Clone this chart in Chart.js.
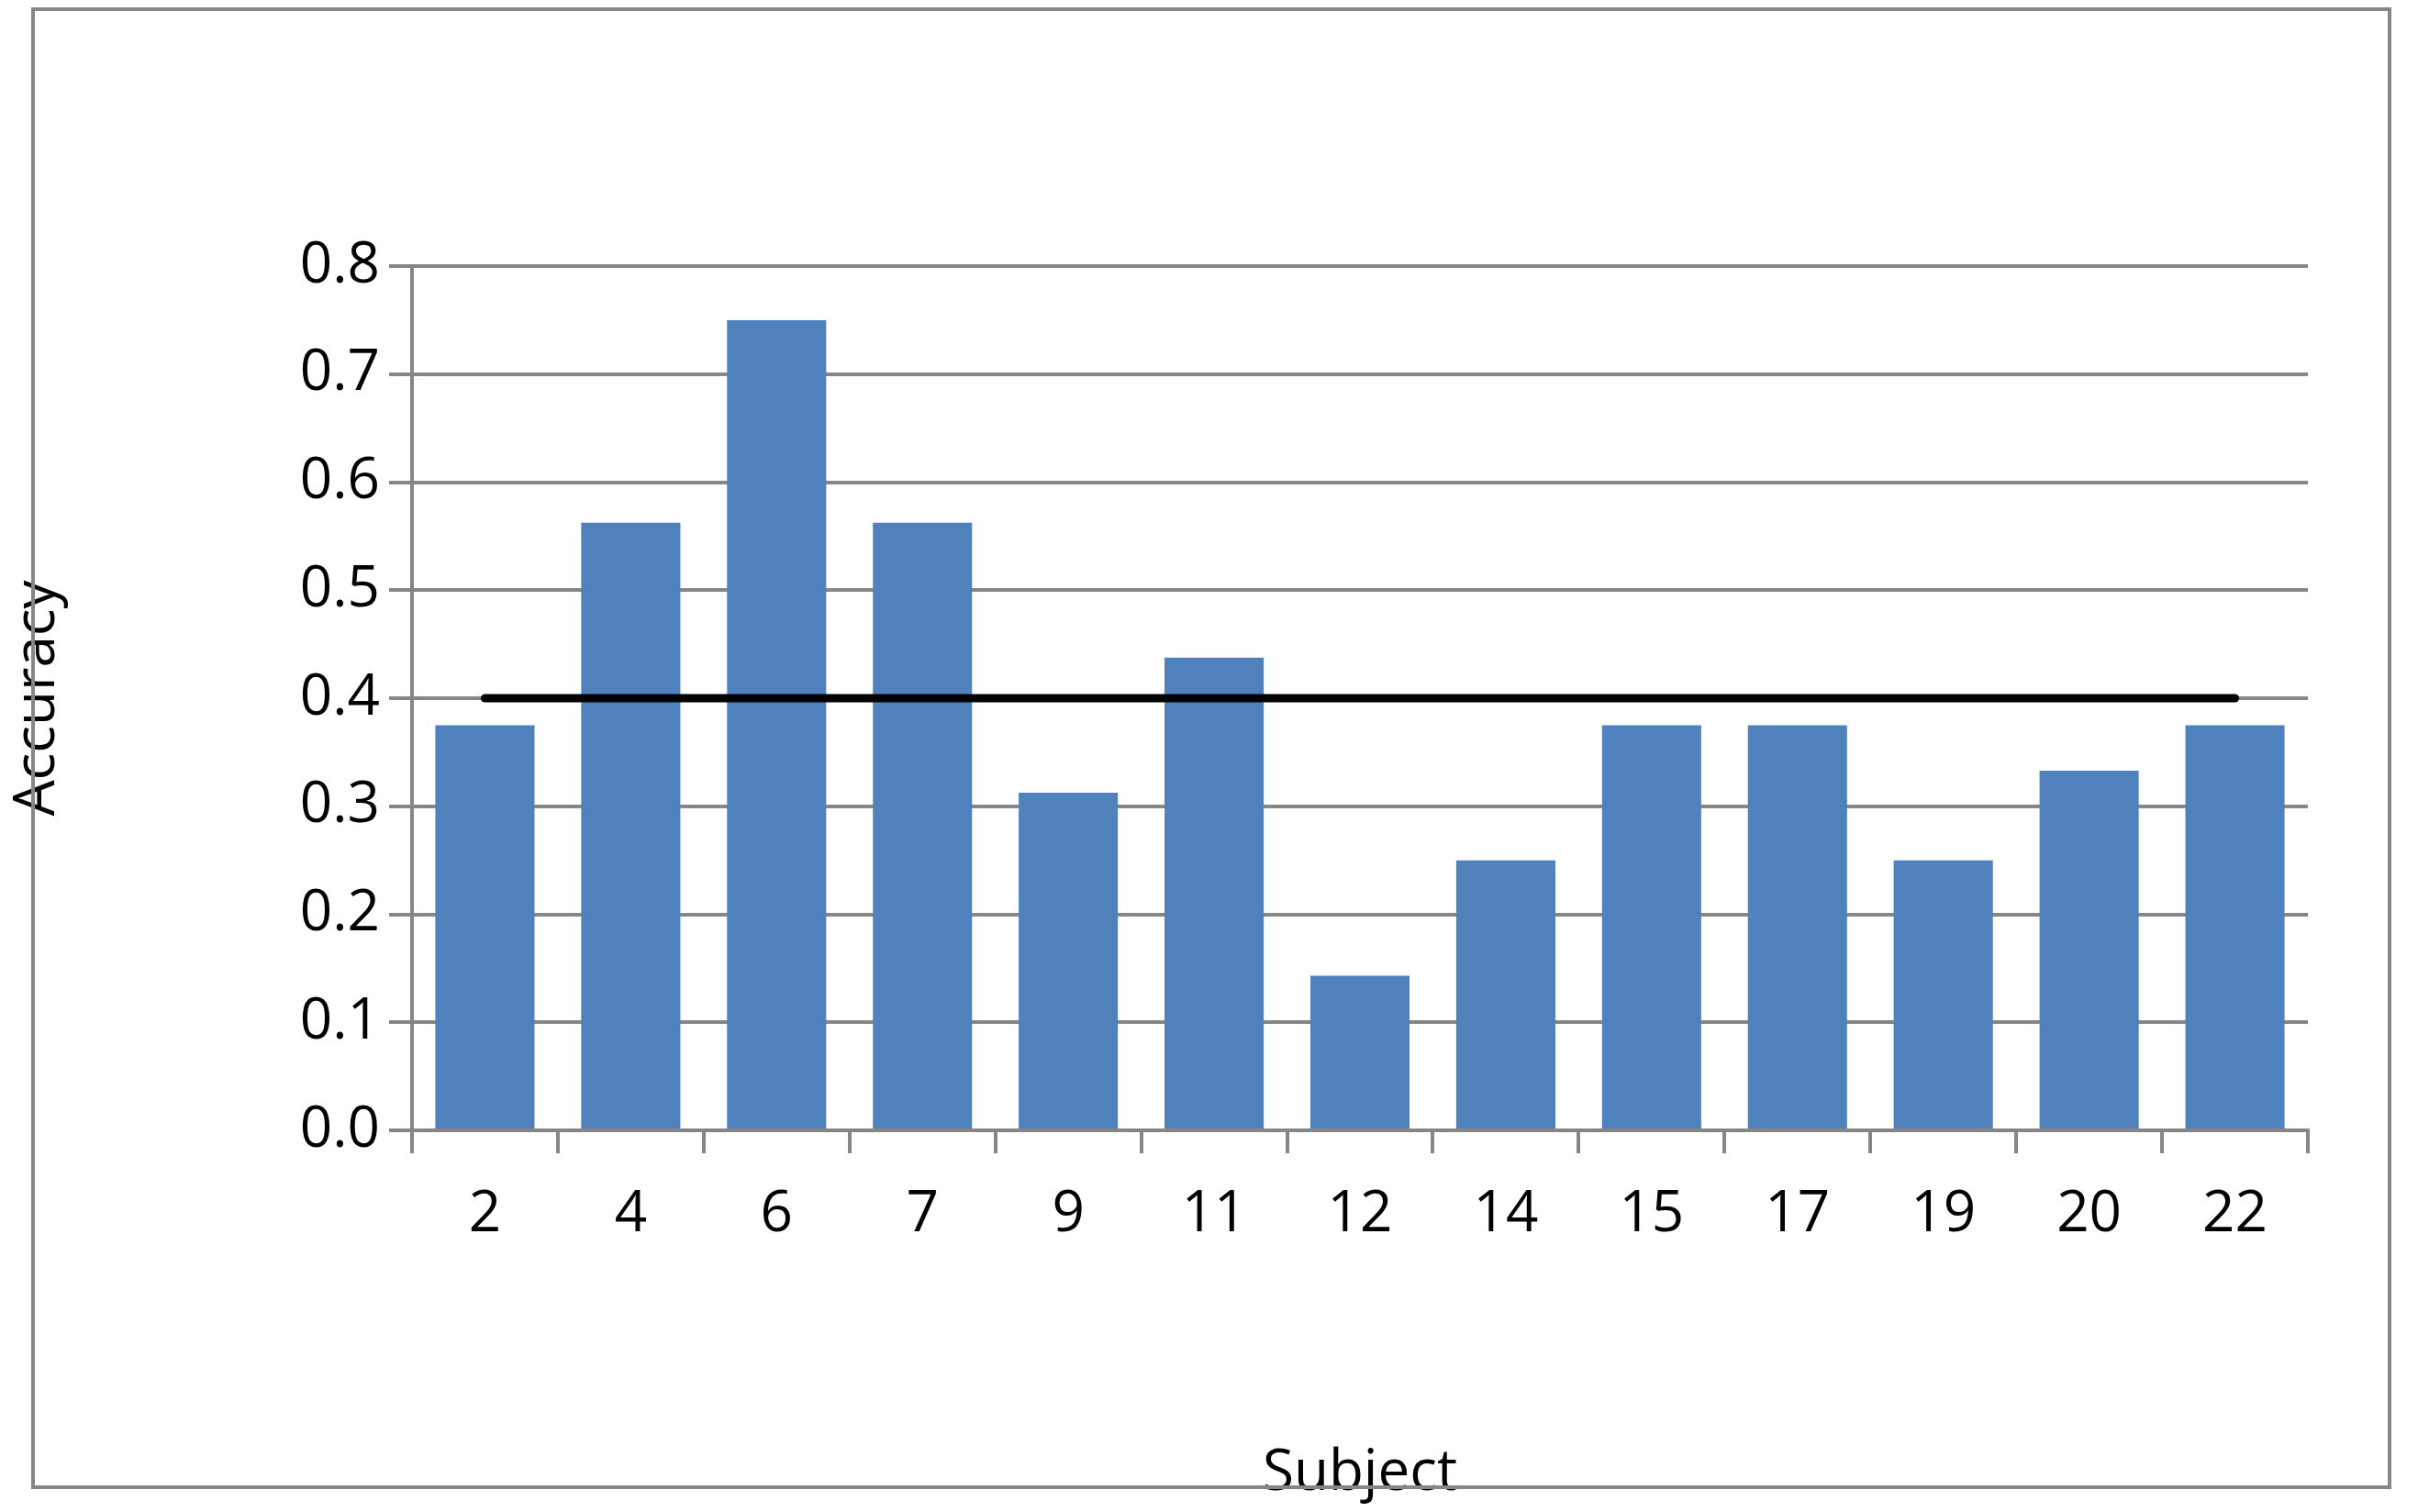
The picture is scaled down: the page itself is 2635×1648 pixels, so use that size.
<!DOCTYPE html>
<html><head><meta charset="utf-8">
<script src="https://cdn.jsdelivr.net/npm/chart.js@4"></script>
<style>
html,body{margin:0;padding:0;background:#fff;}
#wrap{position:absolute;left:0;top:0;width:2635px;height:1648px;}
#frame{position:absolute;left:34px;top:8px;width:2564px;height:1607px;border:4px solid #868686;pointer-events:none;}
</style></head><body>
<div id="wrap"><canvas id="c" width="2635" height="1648"></canvas></div>
<div id="frame"></div>
<script>
const subjects = ['2','4','6','7','9','11','12','14','15','17','19','20','22'];
const accuracy = [0.375,0.5625,0.75,0.5625,0.3125,0.4375,0.143,0.25,0.375,0.375,0.25,0.333,0.375];
const chanceLevel = [0.4,0.4,0.4,0.4,0.4,0.4,0.4,0.4,0.4,0.4,0.4,0.4,0.4];
const yTicks = [0,0.1,0.2,0.3,0.4,0.5,0.6,0.7,0.8];
const font = {family:'"Open Sans", "Liberation Sans", sans-serif', size:62};
Chart.defaults.color = '#000';
new Chart(document.getElementById('c'), {
  data:{labels:subjects,datasets:[
    {type:'line',data:chanceLevel,borderColor:'#000',borderWidth:9,pointRadius:0,borderCapStyle:'round',order:0},
    {type:'bar',data:accuracy,backgroundColor:'#4F81BD',categoryPercentage:0.68,barPercentage:1,order:1}
  ]},
  options:{responsive:false,animation:false,
    layout:{padding:{left:0,right:120,top:290,bottom:0}},
    plugins:{legend:{display:false},tooltip:{enabled:false}},
    scales:{
      x:{offset:true,
        grid:{display:true,drawOnChartArea:false,offset:true,tickLength:25,color:'#868686',lineWidth:4},
        border:{color:'#868686',width:4},
        ticks:{font:font,padding:30,maxRotation:0},
        title:{display:true,text:'Subject',font:font,padding:{top:40}},
        afterFit(s){s.height=416;}},
      y:{min:0,max:0.8,
        afterBuildTicks(s){s.ticks=yTicks.map(v=>({value:v}));},
        grid:{color:'#868686',lineWidth:4,tickLength:25},
        border:{color:'#868686',width:4},
        ticks:{font:font,padding:10,callback:v=>v.toFixed(1)},
        title:{display:true,text:'Accuracy',font:font,padding:{bottom:20}},
        afterFit(s){s.width=449;}}
    }}
});
</script></body></html>
